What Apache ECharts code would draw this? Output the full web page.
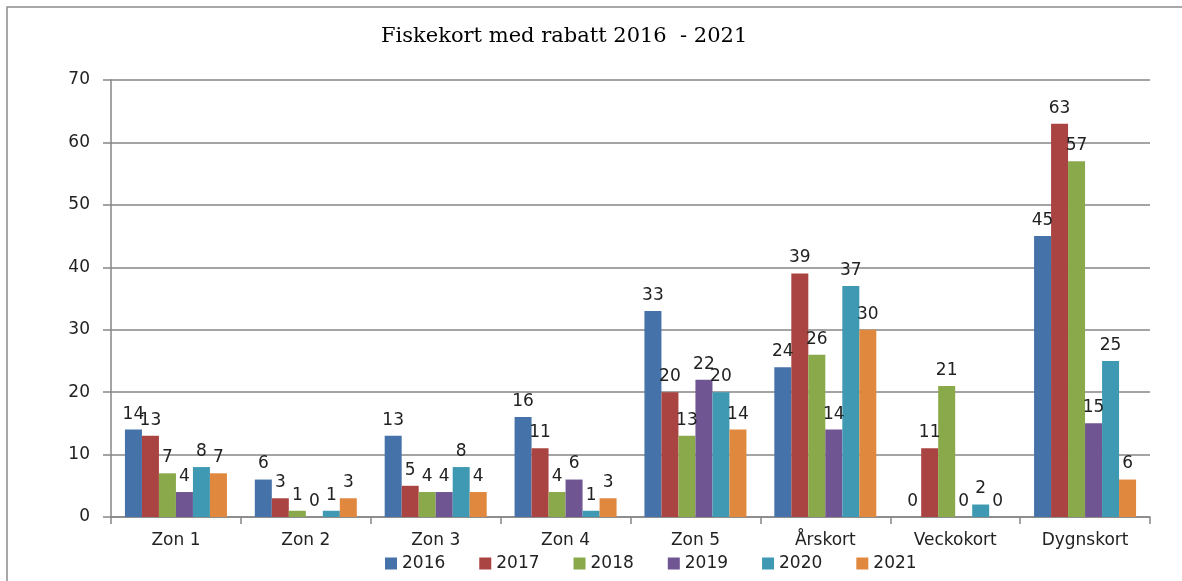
<!DOCTYPE html>
<html>
<head>
<meta charset="utf-8">
<script src="https://cdn.jsdelivr.net/npm/echarts@6/dist/echarts.min.js"></script>
<style>
  html, body { margin: 0; padding: 0; background: #fff; }
  #chart { width: 1182px; height: 581px; }
</style>
</head>
<body>
<div id="chart"></div>
<script>
var categories = ['Zon 1', 'Zon 2', 'Zon 3', 'Zon 4', 'Zon 5', 'Årskort', 'Veckokort', 'Dygnskort'];
var years = ['2016', '2017', '2018', '2019', '2020', '2021'];
var colors = ['#4572a9', '#aa4442', '#89a94b', '#6f5591', '#3f99b3', '#e0883e'];

var v2016 = [14, 6, 13, 16, 33, 24, 0, 45];
var v2017 = [13, 3, 5, 11, 20, 39, 11, 63];
var v2018 = [7, 1, 4, 4, 13, 26, 21, 57];
var v2019 = [4, 0, 4, 6, 22, 14, 0, 15];
var v2020 = [8, 1, 8, 1, 20, 37, 2, 25];
var v2021 = [7, 3, 4, 3, 14, 30, 0, 6];
var values = [v2016, v2017, v2018, v2019, v2020, v2021];

var yTicks = [0, 10, 20, 30, 40, 50, 60, 70];

var dom = document.getElementById('chart');
var myChart = echarts.init(dom);

var series = [];
for (var i = 0; i < years.length; i++) {
    series.push({
        name: years[i],
        type: 'bar',
        data: values[i],
        barWidth: 17,
        barGap: '0%',
        itemStyle: { color: colors[i] },
        label: {
            show: true,
            position: 'top',
            distance: 7,
            color: '#222',
            fontFamily: 'DejaVu Sans',
            fontSize: 17
        },
        animation: false
    });
}

var option = {
    animation: false,
    color: colors,
    title: {
        text: 'Fiskekort med rabatt 2016  - 2021',
        left: 376,
        top: 21,
        textStyle: {
            fontFamily: 'DejaVu Serif',
            fontWeight: 'normal',
            fontSize: 21,
            color: '#000'
        }
    },
    graphic: [{
        type: 'rect',
        shape: { x: 7, y: 7, width: 1200, height: 600 },
        style: { fill: 'none', stroke: '#8c8c8c', lineWidth: 1.5 },
        silent: true
    }],
    legend: {
        data: years,
        bottom: 4,
        left: 380,
        itemWidth: 12,
        itemHeight: 12,
        itemGap: 34,
        icon: 'rect',
        textStyle: { fontFamily: 'DejaVu Sans', fontSize: 17, color: '#222' }
    },
    grid: {
        left: 111,
        right: 32,
        top: 80,
        bottom: 64
    },
    xAxis: {
        type: 'category',
        data: categories,
        axisLine: { lineStyle: { color: '#868686', width: 1.5 } },
        axisTick: { show: true, length: 7, lineStyle: { color: '#868686', width: 1.5 } },
        axisLabel: { fontFamily: 'DejaVu Sans', fontSize: 17, color: '#222', margin: 15 }
    },
    yAxis: {
        type: 'value',
        min: yTicks[0],
        max: yTicks[yTicks.length - 1],
        interval: 10,
        axisLine: { show: true, lineStyle: { color: '#868686', width: 1.5 } },
        axisTick: { show: true, length: 8, lineStyle: { color: '#868686', width: 1.5 } },
        axisLabel: { fontFamily: 'DejaVu Sans', fontSize: 17, color: '#222', margin: 21 },
        splitLine: { lineStyle: { color: '#868686', width: 1.5 } }
    },
    series: series
};

if (option && typeof option === 'object') {
    myChart.setOption(option, true);
}
</script>
</body>
</html>
